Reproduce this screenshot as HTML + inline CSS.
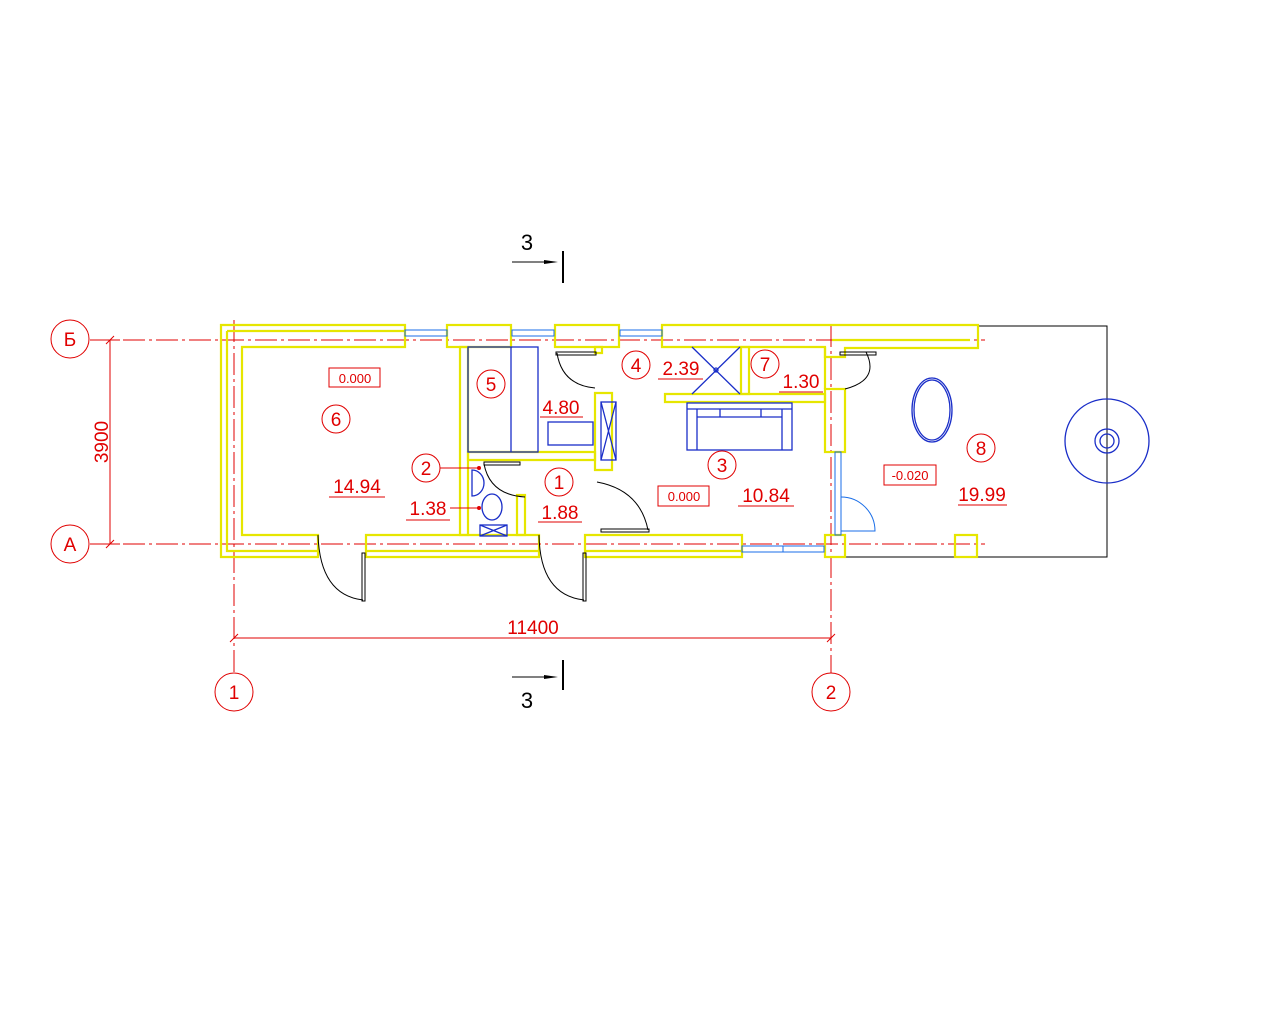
<!DOCTYPE html>
<html><head><meta charset="utf-8"><style>html,body{margin:0;padding:0;background:#fff}svg{display:block}</style></head><body>
<svg width="1280" height="1024" viewBox="0 0 1280 1024" xmlns="http://www.w3.org/2000/svg" font-family="Liberation Sans, sans-serif">
<rect width="1280" height="1024" fill="#fff"/>
<g stroke="#e00000" stroke-width="1" fill="none" stroke-dasharray="22,4,3,4">
<line x1="90" y1="340" x2="985" y2="340"/>
<line x1="90" y1="544" x2="985" y2="544"/>
<line x1="234" y1="320" x2="234" y2="673"/>
<line x1="831" y1="325" x2="831" y2="673"/>
</g>
<g stroke="#e00000" stroke-width="1" fill="none">
<circle cx="70" cy="339" r="19"/><circle cx="70" cy="544" r="19"/>
<circle cx="234" cy="692" r="19"/><circle cx="831" cy="692" r="19"/>
<line x1="110" y1="340" x2="120" y2="340"/><line x1="110" y1="544" x2="120" y2="544"/>
<line x1="110" y1="340" x2="110" y2="544"/>
<line x1="106" y1="344" x2="114" y2="336"/><line x1="106" y1="548" x2="114" y2="540"/>
<line x1="234" y1="638" x2="831" y2="638"/>
<line x1="230" y1="642" x2="238" y2="634"/><line x1="827" y1="642" x2="835" y2="634"/>
</g>
<g fill="#e00000" font-size="19" text-anchor="middle">
<text x="70" y="346">Б</text><text x="70" y="551">А</text>
<text x="234" y="699">1</text><text x="831" y="699">2</text>
<text x="533" y="634">11400</text>
<text transform="translate(108,442) rotate(-90)" text-anchor="middle">3900</text>
</g>
<g stroke="#000" fill="none">
<line x1="512" y1="262" x2="555" y2="262"/><line x1="563" y1="251" x2="563" y2="283" stroke-width="2"/>
<line x1="512" y1="677" x2="555" y2="677"/><line x1="563" y1="660" x2="563" y2="690" stroke-width="2"/>
</g>
<path d="M544 260 L558 262 L544 264Z M544 675 L558 677 L544 679Z" fill="#000"/>
<g font-size="22" text-anchor="middle" fill="#000"><text x="527" y="250">3</text><text x="527" y="708">3</text></g>
<polyline points="978,326 1107,326 1107,557 845,557" fill="none" stroke="#000"/>
<g fill="none" stroke="#e6e600" stroke-width="2.2">
<path d="M221 325 H405 V347 H242 V535 H318 V557 H221 Z"/>
<path d="M227 331 H405 M227 331 V551 H318"/>
<rect x="447" y="325" width="64" height="22"/>
<rect x="555" y="325" width="64" height="22"/>
<path d="M662 325 H978 V348 H845 V357 H825 V347 H662 Z"/>
<line x1="832" y1="340" x2="970" y2="340"/>
<path d="M366 535 H539 V557 H366 Z"/><line x1="366" y1="551" x2="539" y2="551"/>
<path d="M585 535 H742 V557 H585 Z"/><line x1="585" y1="551" x2="742" y2="551"/>
<rect x="825" y="535" width="20" height="22"/>
<rect x="955" y="535" width="22" height="22"/>
<rect x="460" y="347" width="8" height="188"/>
<path d="M468 452 H595 V460 H468Z"/>
<path d="M595 393 H612 V470 H595 Z"/>
<rect x="517" y="495" width="8" height="40"/>
<path d="M665 394 H825 V402 H665Z"/>
<rect x="741" y="347" width="8" height="47"/>
<rect x="825" y="389" width="20" height="63"/>
<path d="M595 347 H602 V353 H595Z M825 347 V389"/>
</g>
<g fill="none" stroke="#1a6ee8" stroke-width="1">
<rect x="405" y="330" width="42" height="6"/><rect x="512" y="330" width="42" height="6"/><rect x="620" y="330" width="42" height="6"/>
<rect x="742" y="546" width="82" height="6"/><line x1="783" y1="546" x2="783" y2="552"/>
<rect x="835" y="452" width="6" height="83"/>
<path d="M841 497 A34 34 0 0 1 875 531 H841"/>
</g>
<g fill="none" stroke="#1a2ec8" stroke-width="1.3">
<rect x="468" y="347" width="70" height="105"/><line x1="511" y1="347" x2="511" y2="452"/>
<rect x="548" y="422" width="45" height="23"/>
<rect x="601" y="402" width="15" height="58"/><path d="M601 402 L616 460 M616 402 L601 460"/>
<rect x="687" y="403" width="105" height="47"/><line x1="687" y1="409" x2="792" y2="409"/><line x1="697" y1="409" x2="697" y2="450"/><line x1="782" y1="409" x2="782" y2="450"/><line x1="697" y1="417" x2="782" y2="417"/><line x1="720" y1="409" x2="720" y2="417"/><line x1="761" y1="409" x2="761" y2="417"/>
<path d="M692 347 L740 394 M740 347 L692 394"/><circle cx="716" cy="370" r="2"/>
<path d="M472 470 A12 13 0 0 1 472 496 Z"/>
<ellipse cx="492" cy="507" rx="10" ry="13"/>
<rect x="480" y="525" width="27" height="11"/><path d="M480 525 L507 536 M507 525 L480 536"/>
<ellipse cx="932" cy="410" rx="20" ry="32"/><ellipse cx="932" cy="410" rx="18" ry="30"/>
<circle cx="1107" cy="441" r="42"/><circle cx="1107" cy="441" r="12"/><circle cx="1107" cy="441" r="7"/>
</g>
<g fill="none" stroke="#000" stroke-width="1">
<path d="M318 535 Q320 595 363 600"/><rect x="362" y="553" width="3" height="48"/>
<path d="M539 535 Q540 595 584 600"/><rect x="583" y="553" width="3" height="48"/>
<path d="M557 353 Q562 385 595 388"/><rect x="556" y="352" width="40" height="3"/>
<path d="M484 464 Q490 495 525 497"/><rect x="484" y="462" width="36" height="3"/>
<path d="M597 482 Q640 490 648 530"/><rect x="601" y="529" width="48" height="3"/>
<path d="M866 352 Q880 380 845 389"/><rect x="840" y="352" width="36" height="3"/>
</g>
<g fill="none" stroke="#e00000" stroke-width="1">
<rect x="329" y="368" width="51" height="19"/><rect x="658" y="486" width="51" height="20"/><rect x="884" y="465" width="52" height="20"/>
<circle cx="336" cy="419" r="14"/><circle cx="491" cy="384" r="14"/><circle cx="426" cy="468" r="14"/><circle cx="559" cy="482" r="14"/>
<circle cx="636" cy="365" r="14"/><circle cx="765" cy="364" r="14"/><circle cx="722" cy="465" r="14"/><circle cx="981" cy="448" r="14"/>
<line x1="329" y1="497" x2="385" y2="497"/><line x1="406" y1="520" x2="450" y2="520"/><line x1="538" y1="522" x2="582" y2="522"/>
<line x1="540" y1="417" x2="583" y2="417"/><line x1="658" y1="379" x2="703" y2="379"/><line x1="779" y1="392" x2="823" y2="392"/>
<line x1="738" y1="506" x2="794" y2="506"/><line x1="958" y1="505" x2="1007" y2="505"/>
<line x1="440" y1="468" x2="479" y2="468"/><line x1="450" y1="508" x2="479" y2="508"/>
</g>
<circle cx="479" cy="468" r="2" fill="#e00000"/><circle cx="479" cy="508" r="2" fill="#e00000"/>
<g fill="#e00000" font-size="13" text-anchor="middle">
<text x="355" y="383">0.000</text><text x="684" y="501">0.000</text><text x="910" y="480">-0.020</text>
</g>
<g fill="#e00000" font-size="19" text-anchor="middle">
<text x="336" y="426">6</text><text x="491" y="391">5</text><text x="426" y="475">2</text><text x="559" y="489">1</text>
<text x="636" y="372">4</text><text x="765" y="371">7</text><text x="722" y="472">3</text><text x="981" y="455">8</text>
<text x="357" y="493">14.94</text><text x="428" y="515">1.38</text><text x="560" y="519">1.88</text>
<text x="561" y="414">4.80</text><text x="681" y="375">2.39</text><text x="801" y="388">1.30</text>
<text x="766" y="502">10.84</text><text x="982" y="501">19.99</text>
</g>
</svg>
</body></html>
